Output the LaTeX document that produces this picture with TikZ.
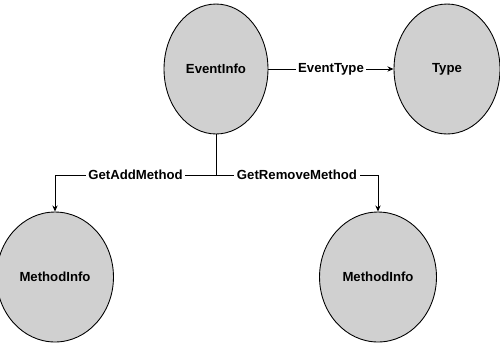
\documentclass[tikz,border=0pt]{standalone}
\usepackage{fontspec}
\setmainfont{Liberation Sans}
\usetikzlibrary{shapes.geometric,arrows.meta}
\definecolor{bubble}{RGB}{208,208,208}

\tikzset{
  info/.style = {ellipse, draw, fill=bubble, line width=0.5pt,
                 minimum width=2.08cm, minimum height=2.6cm,
                 font=\fontsize{7.5}{9}\selectfont\bfseries},
  rel/.style = {draw, line width=0.5pt, -{Stealth[length=3.5pt,width=3pt]}},
  lbl/.style = {fill=white, inner sep=1.5pt, font=\fontsize{7.5}{9}\selectfont\bfseries}
}

\begin{document}
\begin{tikzpicture}[x=0.02cm, y=-0.02cm]
  \useasboundingbox (0,0) rectangle (500,346);

  % nodes
  \node[info] (eventinfo) at (216,69) {EventInfo};
  \node[info, minimum width=2.12cm] (type) at (447,69) {Type};
  \node[info] (addinfo) at (55,277) {MethodInfo};
  \node[info] (removeinfo) at (378,277) {MethodInfo};

  % relations
  \draw[rel] (eventinfo) -- node[lbl] {EventType} (type);
  \coordinate (fork) at (216,175);
  \draw[line width=0.5pt] (eventinfo.south) -- (fork);
  \draw[rel] (fork) -| node[lbl, pos=0.25] {GetAddMethod} (addinfo.north);
  \draw[rel] (fork) -| node[lbl, pos=0.25] {GetRemoveMethod} (removeinfo.north);
\end{tikzpicture}
\end{document}
